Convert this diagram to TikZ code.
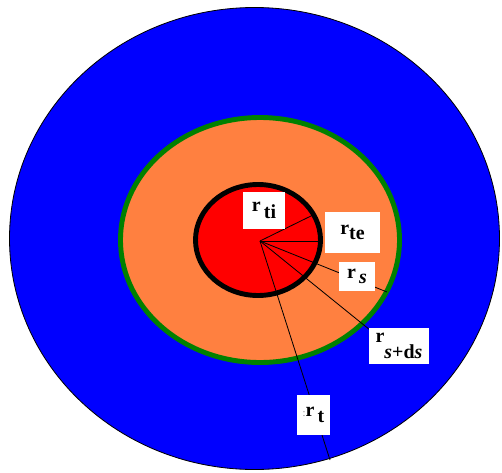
\documentclass[tikz,border=0pt]{standalone}
\usepackage{fontspec}
\setmainfont{Liberation Serif}
\usetikzlibrary{positioning}

\begin{document}
\begin{tikzpicture}[x=0.03cm, y=-0.03cm,
    lbl/.style={fill=white, inner sep=0pt, font=\fontsize{17}{17}\selectfont\bfseries},
    radius line/.style={black, line width=0.7pt}]
    % Color Palette
    \definecolor{outerBlue}{HTML}{0000FF}
    \definecolor{coreOrange}{HTML}{FF8040}
    \definecolor{ringGreen}{HTML}{008000}
    \definecolor{tubeRed}{HTML}{FF0000}

    \useasboundingbox (0,0) rectangle (502,472);

    % --- Regions ---
    \draw[fill=outerBlue, line width=0.7pt] (254.5,238.5) ellipse [x radius=245, y radius=231];
    \draw[ringGreen, fill=coreOrange, line width=4.2pt] (260,240) ellipse [x radius=139.5, y radius=122.5];
    \draw[fill=tubeRed, line width=4.2pt] (258,240) ellipse [x radius=62.5, y radius=55.5];

    % --- Radii ---
    \coordinate (c) at (260,241);
    \coordinate (ti) at (313,215);
    \coordinate (te) at (322,241);
    \coordinate (s) at (387,292);
    \coordinate (sds) at (370,330);
    \coordinate (t) at (330,460);
    \foreach \e in {ti,te,s,sds,t}
        \draw[radius line] (c) -- (\e);

    % --- Labels ---
    \node[lbl, minimum width=36pt, minimum height=31pt] (rti) at (264,210.5) {r\,\raisebox{-0.35em}{ti}};
    \node[lbl, minimum width=47pt, minimum height=35pt] (rte) at (352.5,232.5) {r\raisebox{-0.25em}{te}};
    \node[lbl, minimum width=31pt, minimum height=25pt] (rs) at (357,276.5) {r\,\raisebox{-0.25em}{\itshape s}};
    \node[lbl, minimum width=51pt, minimum height=31pt] (rsds) at (399,346) {r\raisebox{-0.8em}{\itshape s\upshape+d\itshape s}};
    \node[lbl, minimum width=28pt, minimum height=34pt] (rt) at (313.5,415) {{\mdseries\color{gray}\small:}r\,\raisebox{-0.3em}{t}};
\end{tikzpicture}
\end{document}
